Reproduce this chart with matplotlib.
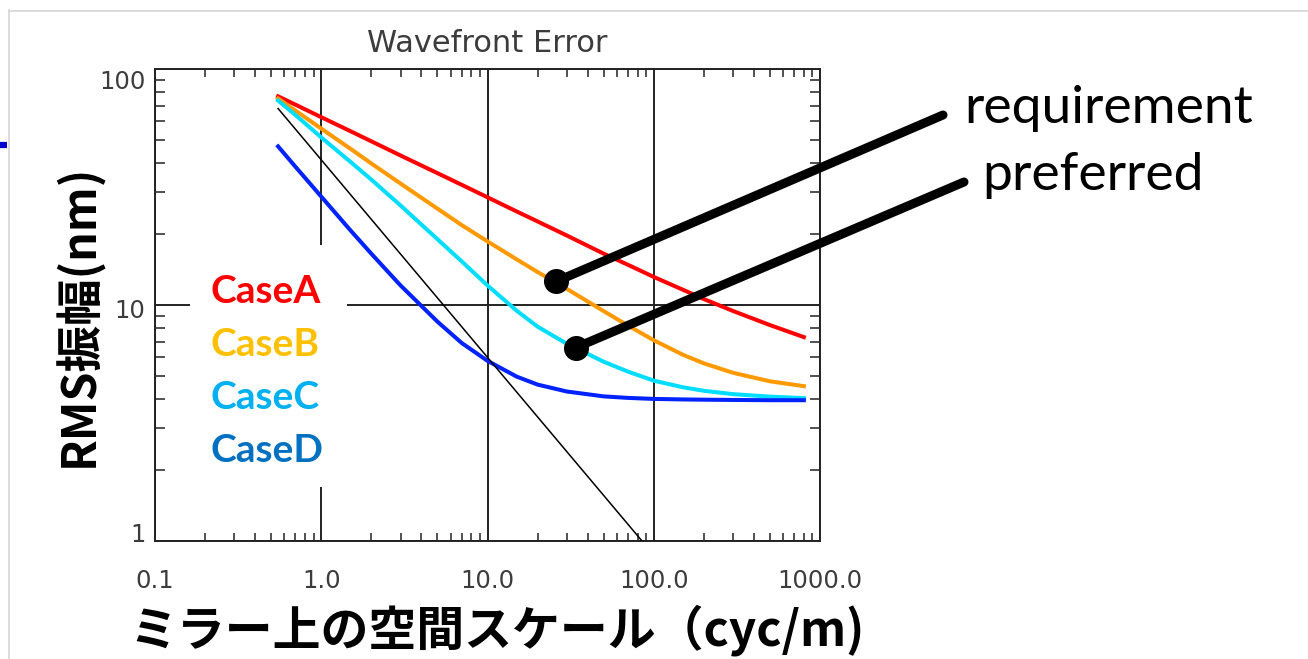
import matplotlib
matplotlib.use("Agg")
import matplotlib.pyplot as plt
from matplotlib.lines import Line2D
from matplotlib.patches import Rectangle
from matplotlib.ticker import LogLocator, NullFormatter

# spatial frequency samples (cyc/m) and RMS amplitude (nm) per case
freq = [0.55, 0.7, 1, 1.5, 2, 3, 5, 7, 10, 15, 20, 30, 50, 70, 100, 150, 200, 300, 500, 800]
rms_a = [76.6, 70.6, 62.5, 54.5, 49.4, 43.0, 36.2, 32.3, 28.6, 24.9, 22.6, 19.7, 16.5, 14.8,
         13.15, 11.6, 10.6, 9.43, 8.22, 7.31]
rms_b = [75.0, 66.6, 55.9, 45.9, 39.8, 32.7, 25.6, 21.8, 18.6, 15.6, 13.8, 11.7, 9.42, 8.18,
         7.09, 6.15, 5.66, 5.16, 4.75, 4.53]
rms_c = [73.5, 63.8, 51.3, 40.4, 34.0, 26.4, 19.0, 15.3, 12.1, 9.45, 8.1, 6.85, 5.75, 5.22,
         4.78, 4.48, 4.33, 4.19, 4.09, 4.03]
rms_d = [47.0, 38.5, 28.8, 20.7, 16.5, 12.1, 8.5, 6.9, 5.8, 4.97, 4.6, 4.3, 4.1, 4.04,
         4.0, 3.98, 3.97, 3.96, 3.95, 3.95]

# power-law reference line
ref_freq = [0.55, 85]
ref_rms = [68, 1.0]

case_labels = ["CaseA", "CaseB", "CaseC", "CaseD"]
case_text_colors = ["#FF0000", "#FFC000", "#00B0F0", "#0070C0"]
line_colors = ["#FF0000", "#FF9900", "#00DDFF", "#0022FF"]

xtick_vals = [0.1, 1, 10, 100, 1000]
xtick_labels = ["0.1", "1.0", "10.0", "100.0", "1000.0"]
ytick_vals = [100, 10, 1]
ytick_labels = ["100", "10", "1"]
ytick_shift = [-9.5, -4.5, 4.5]   # points, IDL-style label placement

req_point = (26, 12.6)    # on CaseB
pref_point = (34, 6.6)    # on CaseC

W, H = 1308, 659
fig = plt.figure(figsize=(W / 100, H / 100), dpi=100)
ax = fig.add_axes([155 / W, 118 / H, 665 / W, 472 / H])
ax.set_xscale("log")
ax.set_yscale("log")
ax.set_xlim(0.1, 1000)
ax.set_ylim(1, 100)

ink = "#222222"
label_grey = "#3c3c3c"

for s in ax.spines.values():
    s.set_linewidth(1.4)
    s.set_color(ink)

ax.set_axisbelow(True)
ax.grid(True, which="major", color=ink, lw=1.4)

ax.set_xticks(xtick_vals)
ax.set_xticklabels(xtick_labels)
ax.set_yticks(ytick_vals)
ax.set_yticklabels([])
ax.xaxis.set_minor_locator(LogLocator(base=10, subs=range(2, 10)))
ax.yaxis.set_minor_locator(LogLocator(base=10, subs=range(2, 10)))
ax.xaxis.set_minor_formatter(NullFormatter())
ax.yaxis.set_minor_formatter(NullFormatter())
ax.tick_params(which="major", length=0, pad=20, labelsize=17.5, labelcolor=label_grey)
ax.tick_params(axis="x", which="minor", direction="in", length=5.5, width=1.1,
               color=ink, top=True, bottom=True)
ax.tick_params(axis="y", which="minor", direction="in", length=7.5, width=1.1,
               color=ink, left=True, right=True)

for v, lbl, dy in zip(ytick_vals, ytick_labels, ytick_shift):
    ax.annotate(lbl, xy=(0, v), xycoords=("axes fraction", "data"),
                xytext=(-7, dy), textcoords="offset points",
                ha="right", va="center", fontsize=17.5, color=label_grey)

ax.set_title("Wavefront Error", fontsize=22, color=label_grey, pad=12)

for y, c in zip([rms_a, rms_b, rms_c, rms_d], line_colors):
    ax.plot(freq, y, color=c, lw=2.9, zorder=3, solid_joinstyle="round")
ax.plot(ref_freq, ref_rms, color="black", lw=1.1, zorder=3)

# white panel behind the case names
panel = Rectangle((190 / W, 1 - 487 / H), 157 / W, 242 / H, transform=fig.transFigure,
                  facecolor="white", edgecolor="none", zorder=1, clip_on=False)
ax.add_artist(panel)

for i, (lbl, c) in enumerate(zip(case_labels, case_text_colors)):
    fig.text(210 / W, 1 - (303 + 53 * i) / H, lbl, color=c, fontsize=28,
             fontweight="bold", family=["Lato", "DejaVu Sans"], va="baseline", ha="left")

# callouts
for pt, end in [(req_point, (943 / W, 1 - 115 / H)), (pref_point, (964 / W, 1 - 182 / H))]:
    ax.annotate("", xy=pt, xycoords="data", xytext=end, textcoords="figure fraction",
                arrowprops=dict(arrowstyle="-", lw=6.5, color="black",
                                shrinkA=0, shrinkB=0),
                annotation_clip=False, zorder=6)
    ax.plot(*pt, "o", ms=17, color="black", zorder=7, clip_on=False)

fig.text(964 / W, 1 - 123 / H, "requirement", fontsize=38.5, family=["Lato", "DejaVu Sans"],
         va="baseline", ha="left")
fig.text(982 / W, 1 - 190 / H, "preferred", fontsize=38.5, family=["Lato", "DejaVu Sans"],
         va="baseline", ha="left")

jp = ["Noto Sans CJK JP", "DejaVu Sans"]
fig.text(79 / W, 1 - 315 / H, "RMS振幅(nm)", rotation=90, fontsize=33.5, fontweight="bold",
         family=jp, ha="center", va="center")
fig.text(129 / W, 14 / H, "ミラー上の空間スケール（cyc/m)", fontsize=34.5, fontweight="bold",
         family=jp, ha="left", va="baseline")

# slide frame
fig.add_artist(Line2D([8.5 / W, 8.5 / W], [0, 1 - 10 / H], transform=fig.transFigure,
                      color="#d6d6d6", lw=1.2))
fig.add_artist(Line2D([8.5 / W, 1], [1 - 10.5 / H, 1 - 10.5 / H], transform=fig.transFigure,
                      color="#d6d6d6", lw=1.2))
fig.add_artist(Line2D([0, 7 / W], [1 - 145 / H, 1 - 145 / H], transform=fig.transFigure,
                      color="#0000CC", lw=4.5, solid_capstyle="butt"))

fig.savefig("out.png", dpi=100)
